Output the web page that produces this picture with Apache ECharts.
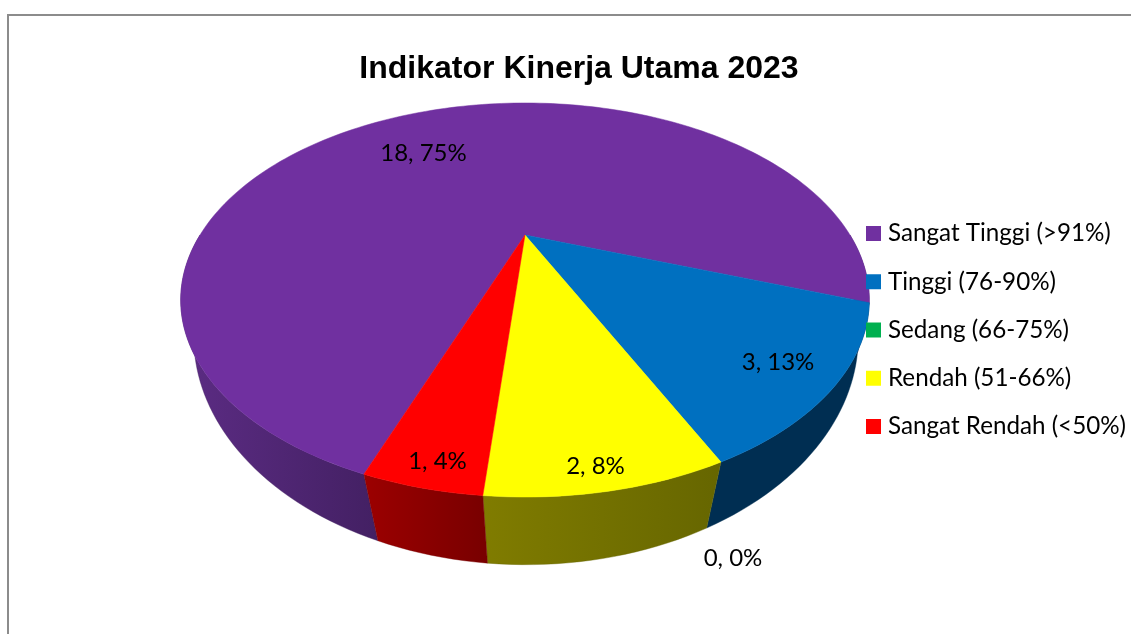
<!DOCTYPE html>
<html>
<head>
<meta charset="utf-8">
<style>html,body{margin:0;padding:0;background:#fff}#c{width:1131px;height:634px}</style>
<script src="https://cdn.jsdelivr.net/npm/echarts@6/dist/echarts.min.js"></script>
</head>
<body>
<div id="c"></div>
<script>
const categories = ['Sangat Tinggi (>91%)', 'Tinggi (76-90%)', 'Sedang (66-75%)', 'Rendah (51-66%)', 'Sangat Rendah (<50%)'];
const values = [18, 3, 0, 2, 1];
const topColors = ['#7030A0', '#0070C0', '#00B050', '#FFFF00', '#FF0000'];
const sideFrom = ['#5C2C84', '#002E52', '#005828', '#807C00', '#9C0000'];
const sideTo = ['#432063', '#002E52', '#005828', '#666600', '#780000'];
const labelAt = [[423.5, 153], [778, 362], null, [595.5, 466], [437.5, 461]];
const zeroLabelAt = [733, 558];

// Perspective projection of the pie's top and bottom discs
const START = 110;
const TOP = { cx: 525, cy: 235, a: 325, b: 175.6, k: 0.33 };
const BOT = { cx: 526, cy: 273, a: 319, b: 210, k: 0.28 };
const total = values.reduce((s, v) => s + v, 0);
const starts = [];
values.reduce((s, v, i) => { starts[i] = s; return s + v / total * 360; }, START);

function project(d, deg) {
  const t = deg * Math.PI / 180, u = Math.cos(t), v = Math.sin(t), w = 1 - d.k * v;
  return [d.cx + d.a * u / w, d.cy + d.b * v / w];
}
function arc(d, s, e) {
  const n = Math.max(2, Math.ceil((e - s) / 1.5)), pts = [];
  for (let i = 0; i <= n; i++) pts.push(project(d, s + (e - s) * i / n));
  return pts;
}
function sideRender(i) {
  return function () {
    const s = starts[i], e = s + values[i] / total * 360, children = [];
    if (values[i] > 0) {
      [[0, 180], [360, 540]].forEach(w => {
        const a = Math.max(s, w[0]), b = Math.min(e, w[1]);
        if (b > a) children.push({
          type: 'polygon',
          shape: { points: arc(TOP, a, b).concat(arc(BOT, a, b).reverse()) },
          style: {
            fill: { type: 'linear', x: 0, y: 0, x2: 1, y2: 0, colorStops: [
              { offset: 0, color: sideFrom[i] }, { offset: 1, color: sideTo[i] }] },
            stroke: sideTo[i], lineWidth: 0.4
          }
        });
      });
    }
    return { type: 'group', children };
  };
}
function topRender(i) {
  return function () {
    const s = starts[i], e = s + values[i] / total * 360;
    if (values[i] === 0) return { type: 'group', children: [] };
    return {
      type: 'polygon',
      shape: { points: [[TOP.cx, TOP.cy]].concat(arc(TOP, s, e)) },
      style: { fill: topColors[i], stroke: topColors[i], lineWidth: 0.5 }
    };
  };
}
function labelText(i) { return values[i] + ', ' + Math.round(values[i] / total * 100) + '%'; }
function labelRender() {
  const children = [];
  values.forEach((v, i) => {
    const p = v === 0 ? zeroLabelAt : labelAt[i];
    children.push({
      type: 'text',
      style: { x: p[0], y: p[1], text: labelText(i), align: 'center', verticalAlign: 'middle',
               fill: '#000', font: '24px Lato' }
    });
  });
  return { type: 'group', children };
}
const series = [];
categories.forEach((c, i) => series.push({
  type: 'custom', name: 'sisi ' + c, coordinateSystem: 'none', silent: true, z: 1,
  animation: false, data: [[values[i]]], renderItem: sideRender(i)
}));
categories.forEach((c, i) => series.push({
  type: 'custom', name: c, coordinateSystem: 'none', silent: true, z: 2,
  animation: false, itemStyle: { color: topColors[i] }, data: [[values[i]]], renderItem: topRender(i)
}));
series.push({
  type: 'custom', name: 'label', coordinateSystem: 'none', silent: true, z: 3,
  animation: false, data: [[total]], renderItem: labelRender
});

const chart = echarts.init(document.getElementById('c'), null, { renderer: 'canvas' });
chart.setOption({
  animation: false,
  backgroundColor: '#fff',
  title: {
    text: 'Indikator Kinerja Utama 2023', left: 574, top: 48, textAlign: 'center',
    textStyle: { fontFamily: 'Liberation Sans', fontWeight: 'bold', fontSize: 32, color: '#000' }
  },
  legend: {
    data: categories, orient: 'vertical', left: 866, top: 219.5, padding: 0,
    itemWidth: 15, itemHeight: 15, itemGap: 20.25, icon: 'rect', selectedMode: false,
    textStyle: { fontFamily: 'Lato', fontSize: 24.2, color: '#000', lineHeight: 28, padding: [0, 0, 0, 2] }
  },
  graphic: [{
    type: 'polyline', silent: true,
    shape: { points: [[8, 634], [8, 15], [1131, 15]] },
    style: { fill: null, stroke: '#8C8C8C', lineWidth: 2 }
  }],
  series
});
</script>
</body>
</html>
